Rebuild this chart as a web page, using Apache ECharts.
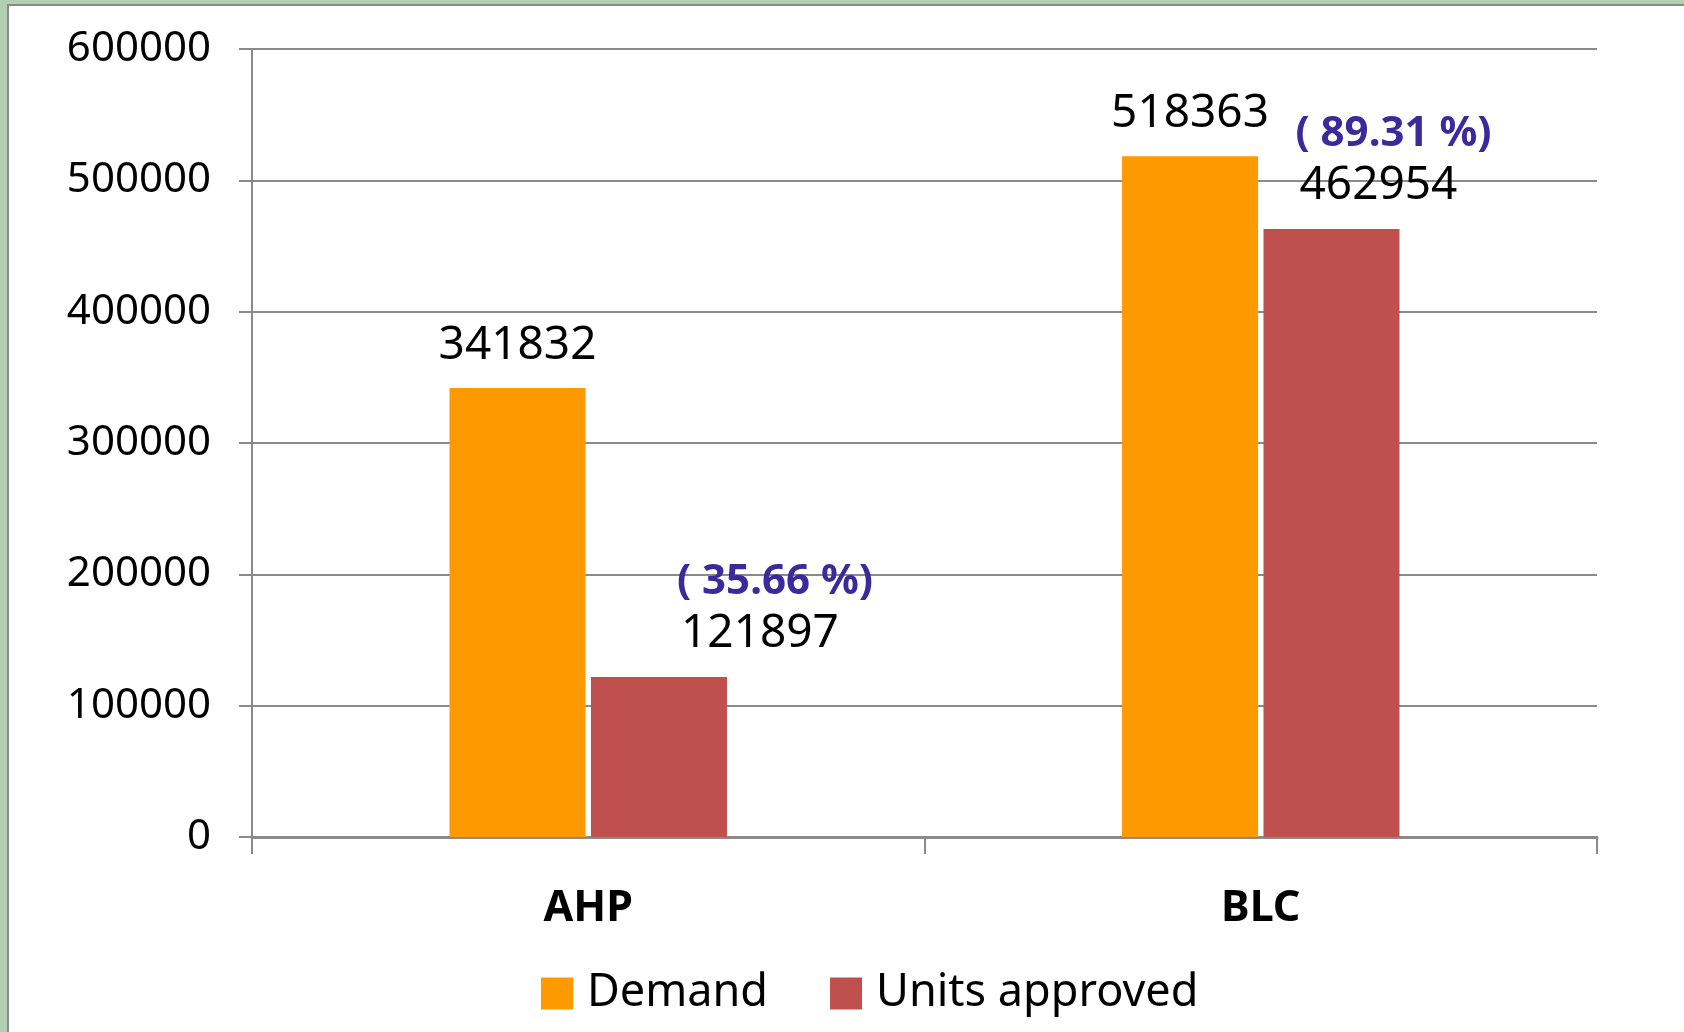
<!DOCTYPE html>
<html>
<head>
<meta charset="utf-8">
<script src="https://cdn.jsdelivr.net/npm/echarts@6/dist/echarts.min.js"></script>
<style>
  html, body { margin: 0; padding: 0; background: #b2cfb3; }
  .panel {
    position: absolute; left: 7px; top: 4px; right: 0; bottom: 0;
    background: #fff; border-left: 2px solid #8a8a8a; border-top: 2px solid #8a8a8a;
  }
  #main { position: absolute; left: 0; top: 0; width: 1684px; height: 1032px; }
</style>
</head>
<body>
<div class="panel"></div>
<div id="main"></div>
<script>
  // chart data
  const categories = ['AHP', 'BLC'];
  const demand = [341832, 518363];
  const approved = [121897, 462954];

  // label shift for the "Units approved" labels (as in the slide)
  const approvedShift = [101, 47];

  const font = 'Noto Sans';
  const gray = '#8a8a8a';

  const chart = echarts.init(document.getElementById('main'), null, { renderer: 'canvas' });

  const approvedData = approved.map((v, i) => ({
    value: v,
    label: { offset: [approvedShift[i], 0] }
  }));

  chart.setOption({
    backgroundColor: 'transparent',
    animation: false,
    textStyle: { fontFamily: font },
    grid: { left: 252, right: 87, top: 49, bottom: 195 },
    legend: {
      left: 536,
      top: 966,
      itemWidth: 32,
      itemHeight: 32,
      itemGap: 62,
      icon: 'rect',
      textStyle: { fontFamily: font, fontSize: 45, color: '#000', padding: [0, 0, 0, 9] },
      data: ['Demand', 'Units approved']
    },
    xAxis: {
      type: 'category',
      data: categories,
      axisLine: { lineStyle: { color: gray, width: 3 } },
      axisTick: { show: true, length: 17, lineStyle: { color: gray, width: 2 } },
      axisLabel: {
        margin: 47, fontFamily: font, fontSize: 43, fontWeight: 'bold',
        color: '#000', lineHeight: 50
      }
    },
    yAxis: {
      type: 'value',
      min: 0,
      max: 600000,
      interval: 100000,
      axisLine: { show: true, lineStyle: { color: gray, width: 2 } },
      axisTick: { show: true, length: 13, lineStyle: { color: gray, width: 2 } },
      splitLine: { lineStyle: { color: gray, width: 2 } },
      axisLabel: {
        margin: 41, fontFamily: font, fontSize: 42, color: '#000',
        formatter: v => String(v)
      }
    },
    series: [
      {
        name: 'Demand',
        type: 'bar',
        data: demand,
        barWidth: 136,
        barGap: '4%',
        itemStyle: { color: '#ff9900' },
        label: {
          show: true,
          position: 'top',
          distance: 16,
          fontFamily: font,
          fontSize: 46,
          lineHeight: 52,
          color: '#000'
        }
      },
      {
        name: 'Units approved',
        type: 'bar',
        data: approvedData,
        barWidth: 136,
        itemStyle: { color: '#c0504d' },
        label: {
          show: true,
          position: 'top',
          distance: 17,
          formatter: p => {
            const pct = (approved[p.dataIndex] / demand[p.dataIndex] * 100).toFixed(2);
            return '{p|( ' + pct + ' %)}\n{v|' + p.value + '}';
          },
          rich: {
            p: {
              fontFamily: font, fontSize: 42, fontWeight: 'bold',
              color: '#3c2a9c', lineHeight: 52, padding: [0, 0, 0, 30]
            },
            v: { fontFamily: font, fontSize: 46, color: '#000', lineHeight: 52 }
          }
        }
      }
    ]
  });
</script>
</body>
</html>
